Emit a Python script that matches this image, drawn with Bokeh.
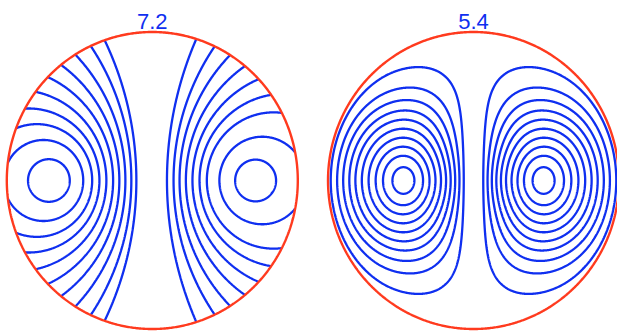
import numpy as np
from bokeh.plotting import figure
from bokeh.models import Range1d
from bokeh.embed import file_html
from bokeh.resources import INLINE
from bokeh.core.properties import value

# ---------------- data ----------------
panel_titles = ["7.2", "5.4"]
panel_centers = [0.0, 2.2076]       # panel centres (units of the circle radius)

# left panel: field lines are Apollonius circles around two foci at +/- focus_offset;
# each level = (distance to near focus) / (distance to far focus)
focus_offset = 0.696
left_lobe_levels = [0.102, 0.189, 0.255, 0.314, 0.376, 0.442, 0.509, 0.580, 0.657, 0.728]
right_lobe_levels = [0.100, 0.203, 0.300, 0.364, 0.432, 0.502, 0.576, 0.653, 0.747]

# right panel: closed contour levels as a fraction of the peak value
closed_levels = [0.05, 0.17, 0.285, 0.40, 0.51, 0.62, 0.725, 0.82, 0.90, 0.97]

BLUE = "#0f2ff0"
RED = "#ff3a1e"

# ---------------- figure ----------------
W, H = 617, 336
px_x, px_y = 145.5, 148.5            # pixels per unit
cx_pix, cy_pix = 151.8, 180.0
x0 = -cx_pix / px_x
y1 = cy_pix / px_y
p = figure(width=W, height=H, output_backend="svg", toolbar_location=None,
           x_axis_type=None, y_axis_type=None,
           x_range=Range1d(x0, x0 + W / px_x), y_range=Range1d(y1 - H / px_y, y1),
           min_border=0)
p.outline_line_color = None
p.background_fill_color = "white"
p.border_fill_color = "white"

# ---- left panel: clipped Apollonius circles ----
cL = panel_centers[0]
xs, ys = [], []
for side, levels in ((-1, left_lobe_levels), (1, right_lobe_levels)):
    for k in levels:
        xc = side * focus_offset * (1 + k * k) / (1 - k * k)
        rr = 2 * focus_offset * k / (1 - k * k)
        cos_t = (1 - xc * xc - rr * rr) / (2 * xc * rr)
        if side < 0:
            if cos_t <= -1:
                th = np.linspace(0, 2 * np.pi, 400)
            else:
                t = np.arccos(np.clip(cos_t, -1, 1))
                th = np.linspace(-t, t, 400)
        else:
            if cos_t >= 1:
                th = np.linspace(0, 2 * np.pi, 400)
            else:
                t = np.arccos(np.clip(cos_t, -1, 1))
                th = np.linspace(t, 2 * np.pi - t, 400)
        xs.append(cL + xc + rr * np.cos(th))
        ys.append(rr * np.sin(th))
p.multi_line(xs, ys, line_color=BLUE, line_width=2.3)

# ---- right panel: closed contours ----
def bessel_j1(z, n=48):
    tau = (np.arange(n) + 0.5) * np.pi / n
    acc = np.zeros_like(z)
    for t in tau:
        acc += np.cos(t - z * np.sin(t))
    return acc / n

g = np.linspace(-1.0, 1.0, 601)
X, Y = np.meshgrid(g, g)
ax = np.abs(X)
x_peak = 1.8412 / 3.8317
warp = np.where(ax < x_peak, 0.07 * (1 - ax / x_peak) ** 2, 0.0)
xt = np.maximum(ax - warp, 0.0)
rho_t = np.sqrt(xt * xt + Y * Y)
cos_t = xt / np.maximum(rho_t, 1e-12)
eps2 = 0.04
damp = ((xt * xt + eps2) / (rho_t * rho_t + eps2)) ** 0.25
f = bessel_j1(3.8317 * rho_t) * cos_t * damp * np.sign(X)
f = f * np.exp(-0.7 * Y ** 2 - 1.5 * Y ** 4)
f = np.where(X * X + Y * Y > 1, 0.0, np.where(rho_t > 1, 0.0, f)) / 0.58187
lv = sorted([-v for v in closed_levels] + list(closed_levels))
p.contour(g + panel_centers[1], g, f, levels=lv, line_color=BLUE, line_width=2.3)

# ---- boundary circles ----
th = np.linspace(0, 2 * np.pi, 721)
p.multi_line([c + np.cos(th) for c in panel_centers], [np.sin(th)] * 2,
             line_color=RED, line_width=2.4)

# ---- titles ----
p.text(x=panel_centers, y=[(180.0 - 20.7) / px_y] * 2,
       text=panel_titles, text_align="center", text_baseline="alphabetic", text_color=BLUE,
       text_font=value("Liberation Sans"), text_font_size="22px")

open("out.html", "w").write(file_html(p, INLINE))
